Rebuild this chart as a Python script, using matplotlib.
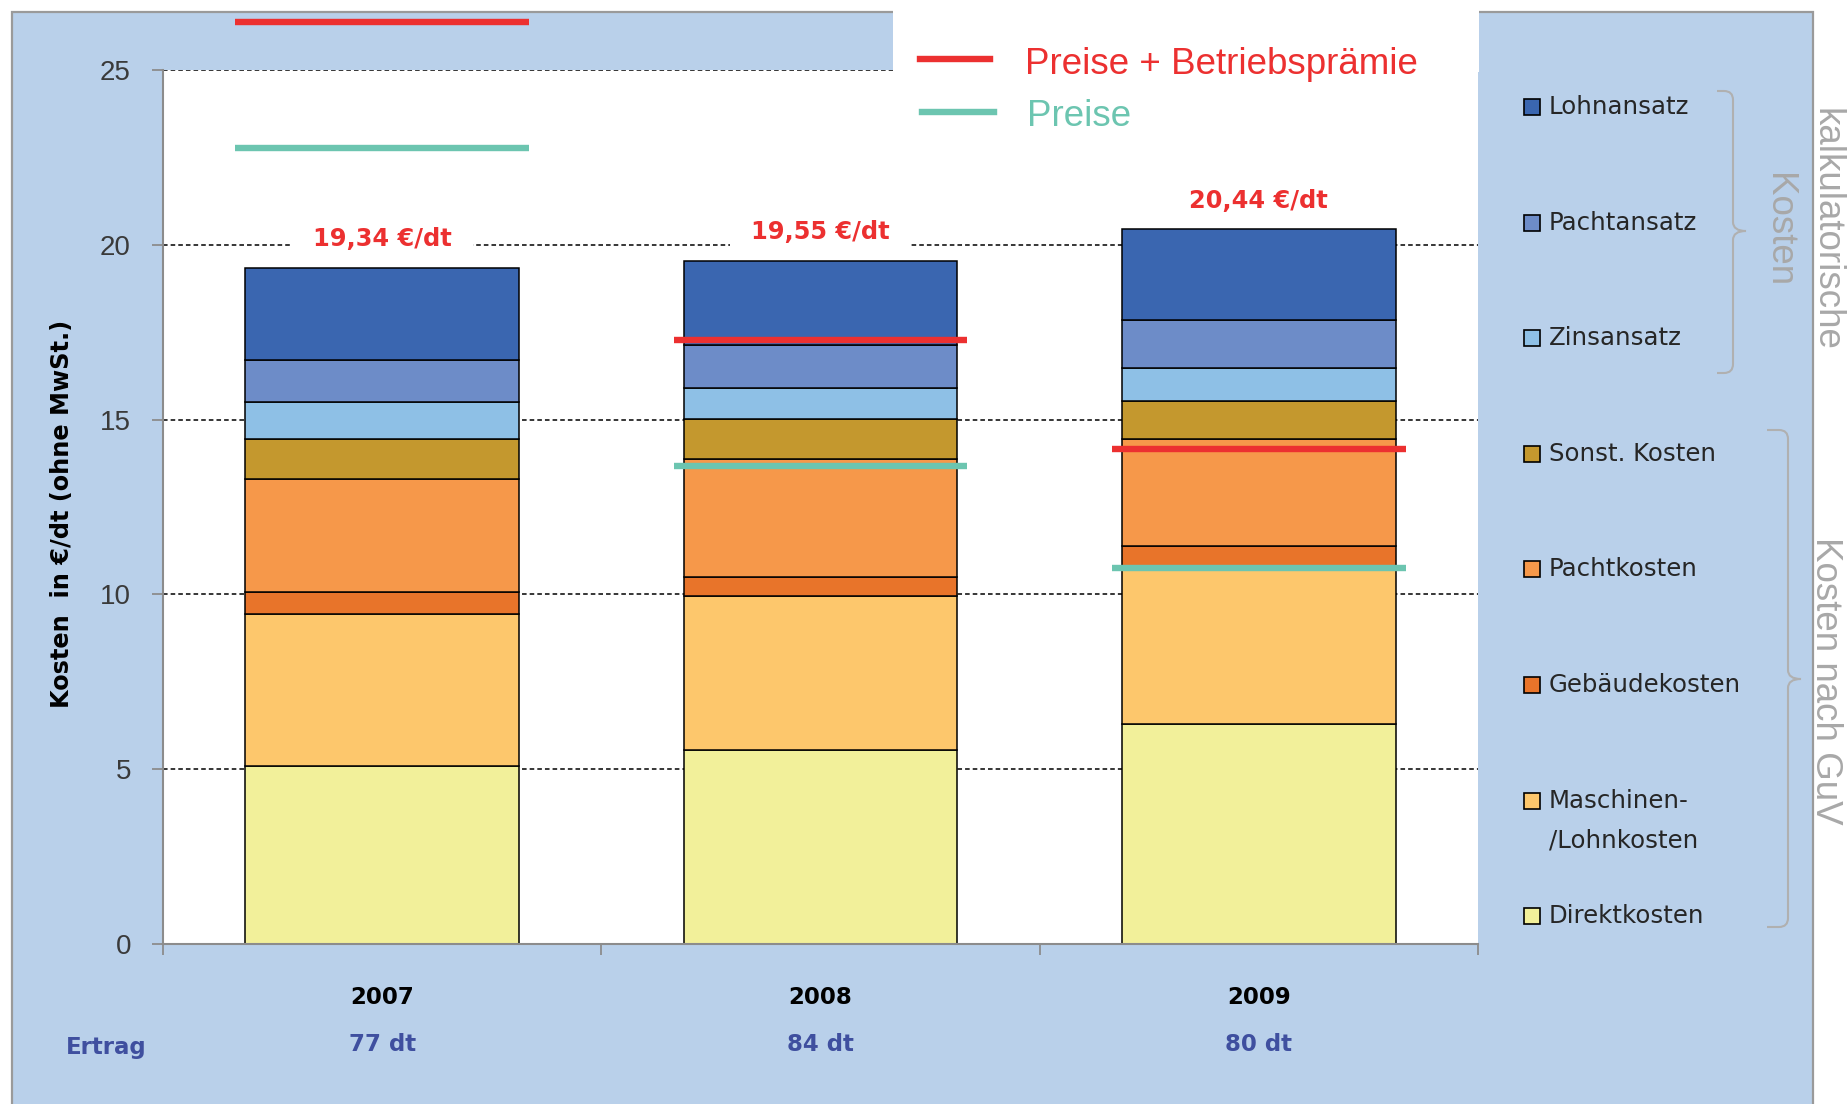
import matplotlib
matplotlib.use("Agg")
import matplotlib.pyplot as plt
from matplotlib.patches import Rectangle, PathPatch
from matplotlib.path import Path
from matplotlib.lines import Line2D

# --- data ---
years = ["2007", "2008", "2009"]
ertrag = ["77 dt", "84 dt", "80 dt"]

# stacked segments, bottom to top
direktkosten = [5.09, 5.56, 6.30]
maschinen = [4.34, 4.38, 4.41]
gebaeude = [0.64, 0.57, 0.68]
pachtkosten = [3.24, 3.37, 3.06]
sonst = [1.14, 1.15, 1.08]
zinsansatz = [1.05, 0.87, 0.95]
pachtansatz = [1.21, 1.22, 1.38]
lohnansatz = [2.63, 2.43, 2.58]

preise_praemie = [26.38, 17.28, 14.15]
preise = [22.76, 13.68, 10.75]

series = [
    ("Direktkosten", direktkosten, "#f2f09a"),
    ("Maschinen-\n/Lohnkosten", maschinen, "#fdc76c"),
    ("Gebäudekosten", gebaeude, "#e8742a"),
    ("Pachtkosten", pachtkosten, "#f6984a"),
    ("Sonst. Kosten", sonst, "#c4982e"),
    ("Zinsansatz", zinsansatz, "#8ec0e6"),
    ("Pachtansatz", pachtansatz, "#6d8cc8"),
    ("Lohnansatz", lohnansatz, "#3a66b0"),
]

W, H = 1849, 1104
RED = "#ec3030"
TEAL = "#6cc5b0"
PANEL = "#b9d0ea"
NARROW = ["Liberation Sans Narrow", "Liberation Sans", "DejaVu Sans"]
ARIAL = ["Liberation Sans", "DejaVu Sans"]


def fx(px):
    return px / W


def fy(py):
    return 1 - py / H


fig = plt.figure(figsize=(W / 100, H / 100), dpi=100)
fig.patch.set_facecolor("white")

# blue background panel + white box behind the price legend
fig.add_artist(Rectangle((fx(12), -0.02), fx(1813) - fx(12), fy(12) + 0.02,
                         transform=fig.transFigure, facecolor=PANEL,
                         edgecolor="#9a9a9a", lw=1.6, zorder=-5))
fig.add_artist(Rectangle((fx(893), fy(71.5)), fx(1479) - fx(893), 1 - fy(71.5) + 0.01,
                         transform=fig.transFigure, facecolor="white",
                         edgecolor="none", zorder=1))

ax = fig.add_axes([fx(163), fy(944), fx(1478) - fx(163), fy(70) - fy(944)])
ax.set_facecolor("white")

x = list(range(len(years)))
bottom = [0.0] * len(years)
for name, vals, col in series:
    ax.bar(x, vals, width=0.625, bottom=bottom, color=col,
           edgecolor="black", linewidth=1.1, zorder=2)
    bottom = [b + v for b, v in zip(bottom, vals)]

# total labels
for i, tot in enumerate(bottom):
    lab = f"{tot:.2f}".replace(".", ",") + " €/dt"
    ax.text(i, tot + 0.82, lab, ha="center", va="center", color=RED,
            fontsize=17.3, fontweight="bold", zorder=1.5,
            bbox=dict(boxstyle="square,pad=0.9", fc="white", ec="none"))

# price lines
for i in x:
    ax.plot([i - 0.335, i + 0.335], [preise_praemie[i]] * 2, color=RED,
            lw=4.6, solid_capstyle="butt", zorder=4, clip_on=False)
    ax.plot([i - 0.335, i + 0.335], [preise[i]] * 2, color=TEAL,
            lw=4.6, solid_capstyle="butt", zorder=4, clip_on=False)

ax.set_xlim(-0.5, 2.5)
ax.set_ylim(0, 25)
ax.set_yticks([0, 5, 10, 15, 20, 25])
ax.set_xticks([-0.5, 0.5, 1.5, 2.5])
ax.set_xticklabels([])
ax.yaxis.grid(True, color="black", linestyle=(0, (3, 2)), lw=1.1)
ax.set_axisbelow(True)
for s in ["top", "right"]:
    ax.spines[s].set_visible(False)
for s in ["left", "bottom"]:
    ax.spines[s].set_color("#8c8c8c")
    ax.spines[s].set_linewidth(1.5)
ax.tick_params(axis="both", direction="out", length=7.6, width=1.3,
               color="#8c8c8c")
ax.tick_params(axis="y", labelsize=20, labelcolor="#3a3a3a", pad=15.5)
for lab in ax.get_yticklabels():
    lab.set_fontfamily(NARROW)

# category and yield labels
for i in x:
    ax.text(i, -1.52, years[i], ha="center", va="center", fontsize=16.5,
            fontweight="bold", color="black", clip_on=False)
    ax.text(i, -2.87, ertrag[i], ha="center", va="center", fontsize=16.5,
            fontweight="bold", color="#3f4f9f", clip_on=False)
ax.text(-0.63, -2.97, "Ertrag", ha="center", va="center", fontsize=16.5,
        fontweight="bold", color="#3f4f9f", clip_on=False)

fig.text(fx(62), fy(514), "Kosten  in €/dt (ohne MwSt.)", rotation=90,
         ha="center", va="center", fontsize=17.3, fontweight="bold",
         color="black")

# price legend (top)
fig.add_artist(Line2D([fx(920), fx(990)], [fy(59), fy(59)], color=RED,
                      lw=4.6, transform=fig.transFigure, zorder=3))
fig.add_artist(Line2D([fx(922), fx(994)], [fy(112), fy(112)], color=TEAL,
                      lw=4.6, transform=fig.transFigure, zorder=3))
fig.text(fx(1025), fy(65), "Preise + Betriebsprämie", ha="left", va="center",
         fontsize=26.5, color=RED, family=ARIAL, zorder=3)
fig.text(fx(1027), fy(116), "Preise", ha="left", va="center",
         fontsize=26.5, color=TEAL, family=ARIAL, zorder=3)

# cost legend (right)
leg_y = [107 + k * 115.6 for k in range(len(series))]
for (name, vals, col), yy in zip(reversed(series), leg_y):
    fig.add_artist(Rectangle((fx(1524), fy(yy + 8)), 16 / W, 16 / H,
                             transform=fig.transFigure, facecolor=col,
                             edgecolor="black", lw=1.2, zorder=3))
    for j, line in enumerate(name.split("\n")):
        fig.text(fx(1549), fy(yy + j * 40), line, ha="left", va="center",
                 fontsize=17.6, color="#262626", zorder=3)


def brace(x_end, x_sp, x_tip, y_top, y_mid, y_bot, r=9):
    pts = [(x_end, y_top), (x_sp - r, y_top), (x_sp, y_top), (x_sp, y_top + r),
           (x_sp, y_mid - r), (x_sp, y_mid), (x_tip, y_mid),
           (x_sp, y_mid), (x_sp, y_mid + r),
           (x_sp, y_bot - r), (x_sp, y_bot), (x_sp - r, y_bot), (x_end, y_bot)]
    codes = [Path.MOVETO, Path.LINETO, Path.CURVE3, Path.CURVE3,
             Path.LINETO, Path.CURVE3, Path.CURVE3,
             Path.CURVE3, Path.CURVE3,
             Path.LINETO, Path.CURVE3, Path.CURVE3, Path.LINETO]
    verts = [(fx(a), fy(b)) for a, b in pts]
    fig.add_artist(PathPatch(Path(verts, codes), transform=fig.transFigure,
                             fill=False, edgecolor="#b0b0b0", lw=1.5, zorder=3))


brace(1717, 1733, 1746, 91, 231, 373)
brace(1767, 1788, 1801, 430, 679, 927)

fig.text(fx(1779), fy(230), "Kosten", rotation=-90, ha="center", va="center",
         fontsize=26.5, color="#a8a8a8", family=NARROW, zorder=3)
fig.text(fx(1826), fy(229), "kalkulatorische", rotation=-90, ha="center",
         va="center", fontsize=26.5, color="#a8a8a8", family=NARROW, zorder=3)
fig.text(fx(1826), fy(681), "Kosten nach GuV", rotation=-90, ha="center",
         va="center", fontsize=26.5, color="#a8a8a8", family=NARROW, zorder=3)

fig.savefig("out.png", dpi=100)
